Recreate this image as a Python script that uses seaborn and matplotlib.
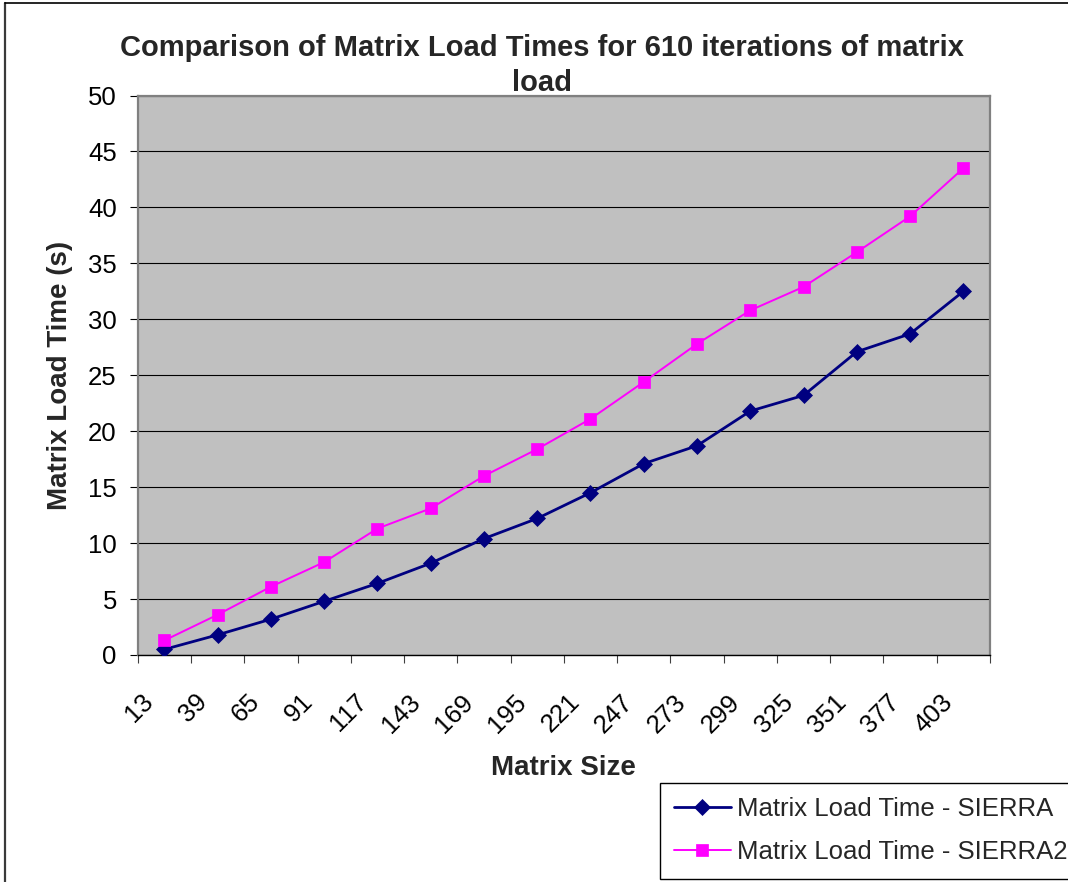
import numpy as np
import pandas as pd
import matplotlib
matplotlib.use("Agg")
import matplotlib.pyplot as plt
import matplotlib.transforms as mtransforms
from matplotlib.lines import Line2D
from matplotlib.ticker import FixedLocator, FixedFormatter, NullFormatter
import seaborn as sns

# ---- data -------------------------------------------------------------
matrix_sizes = [13, 39, 65, 91, 117, 143, 169, 195, 221, 247, 273, 299, 325, 351, 377, 403]
sierra_times = [0.5, 1.8, 3.2, 4.8, 6.4, 8.2, 10.4, 12.2, 14.5, 17.1, 18.7, 21.8, 23.2, 27.1, 28.7, 32.5]
sierra2_times = [1.3, 3.6, 6.1, 8.3, 11.3, 13.1, 16.0, 18.4, 21.1, 24.4, 27.8, 30.8, 32.9, 36.0, 39.2, 43.5]
series_labels = ["Matrix Load Time - SIERRA", "Matrix Load Time - SIERRA2"]
y_ticks = list(range(0, 51, 5))

title_line1 = "Comparison of Matrix Load Times for 610 iterations of matrix"
title_line2 = "load"
x_title = "Matrix Size"
y_title = "Matrix Load Time (s)"

# ---- style ------------------------------------------------------------
sns.set_style("white")
plt.rcParams["font.family"] = ["Liberation Sans", "DejaVu Sans"]

W, H = 1068, 882
fig = plt.figure(figsize=(W / 100, H / 100), dpi=100)
fig.patch.set_facecolor("white")

# plot area in pixel coordinates (left, top, right, bottom)
pl, pt, pr, pb = 137.7, 95.5, 990.0, 655.0
ax = fig.add_axes([pl / W, 1 - pb / H, (pr - pl) / W, (pb - pt) / H])
ax.set_facecolor("#C0C0C0")

df = pd.DataFrame({
    "size": [str(s) for s in matrix_sizes],
    "sierra": sierra_times,
    "sierra2": sierra2_times,
})

navy = "#000080"
magenta = "#FF00FF"
sns.lineplot(data=df, x="size", y="sierra", ax=ax, sort=False, color=navy,
             lw=2.0, marker="D", markersize=8.0, markeredgecolor=navy,
             markeredgewidth=0.5, label=series_labels[0], zorder=4)
sns.lineplot(data=df, x="size", y="sierra2", ax=ax, sort=False, color=magenta,
             lw=1.4, marker="s", markersize=9.0, markeredgecolor=magenta,
             markeredgewidth=0.5, label=series_labels[1], zorder=4)

n = len(matrix_sizes)
ax.set_xlim(-0.5, n - 0.5)
ax.set_ylim(0, 50)

# y axis
ax.set_yticks(y_ticks)
ax.set_yticklabels([str(v) for v in y_ticks])
ax.yaxis.grid(True, color="black", lw=0.8)
ax.xaxis.grid(False)
ax.set_axisbelow(True)
ax.tick_params(axis="y", which="major", direction="out", length=6, width=0.8,
               color="black", pad=9, labelsize=18.5, labelcolor="black", left=True)

# x axis: tick marks on category boundaries, labels at category centres
ax.xaxis.set_major_locator(FixedLocator(np.arange(-0.5, n, 1.0)))
ax.xaxis.set_major_formatter(NullFormatter())
ax.xaxis.set_minor_locator(FixedLocator(np.arange(n)))
ax.xaxis.set_minor_formatter(FixedFormatter([str(s) for s in matrix_sizes]))
ax.tick_params(axis="x", which="major", direction="out", length=5.5, width=0.8,
               color="#404040", bottom=True)
ax.tick_params(axis="x", which="minor", length=0, pad=25, labelsize=18.5,
               labelcolor="black", labelrotation=45, bottom=True)
shift = mtransforms.ScaledTranslation(-23 / 100, 0, fig.dpi_scale_trans)
for tick in ax.xaxis.get_minor_ticks():
    lab = tick.label1
    lab.set_horizontalalignment("right")
    lab.set_verticalalignment("top")
    lab.set_rotation_mode("anchor")
    lab.set_transform(lab.get_transform() + shift)

# plot-area frame
for side in ["top", "right", "left"]:
    ax.spines[side].set_color("#808080")
    ax.spines[side].set_linewidth(1.6)
    ax.spines[side].set_visible(True)
ax.spines["bottom"].set_color("black")
ax.spines["bottom"].set_linewidth(1.0)
ax.spines["bottom"].set_visible(True)

# axis titles
ax.set_xlabel(x_title, fontsize=20, fontweight="bold", va="center")
ax.xaxis.set_label_coords(0.5, -(768 - pb) / (pb - pt))
ax.set_ylabel(y_title, fontsize=20, fontweight="bold", va="center")
ax.yaxis.set_label_coords(-(pl - 60) / (pr - pl), 0.5)

# chart title (wrapped onto two lines)
fig.text(542 / W, 1 - 48 / H, title_line1, ha="center", va="center",
         fontsize=21, fontweight="bold")
fig.text(542 / W, 1 - 83 / H, title_line2, ha="center", va="center",
         fontsize=21, fontweight="bold")

# legend
leg = ax.legend(loc="upper left", bbox_to_anchor=(660 / W, 1 - 783 / H),
                bbox_transform=fig.transFigure, borderaxespad=0,
                fontsize=18.5, frameon=True, fancybox=False, shadow=False,
                handlelength=2.2, handletextpad=0.25, labelspacing=0.75,
                borderpad=0.55, numpoints=1)
frame = leg.get_frame()
frame.set_edgecolor("black")
frame.set_linewidth(1.0)
frame.set_facecolor("white")
frame.set_alpha(1)

# outer chart border
fig.add_artist(Line2D([5 / W, 5 / W], [1 - 3 / H, 0], transform=fig.transFigure,
                      color="#3a3a3a", lw=1.6))
fig.add_artist(Line2D([5 / W, 1], [1 - 3 / H, 1 - 3 / H], transform=fig.transFigure,
                      color="black", lw=1.2))

fig.savefig("out.png", dpi=100)
